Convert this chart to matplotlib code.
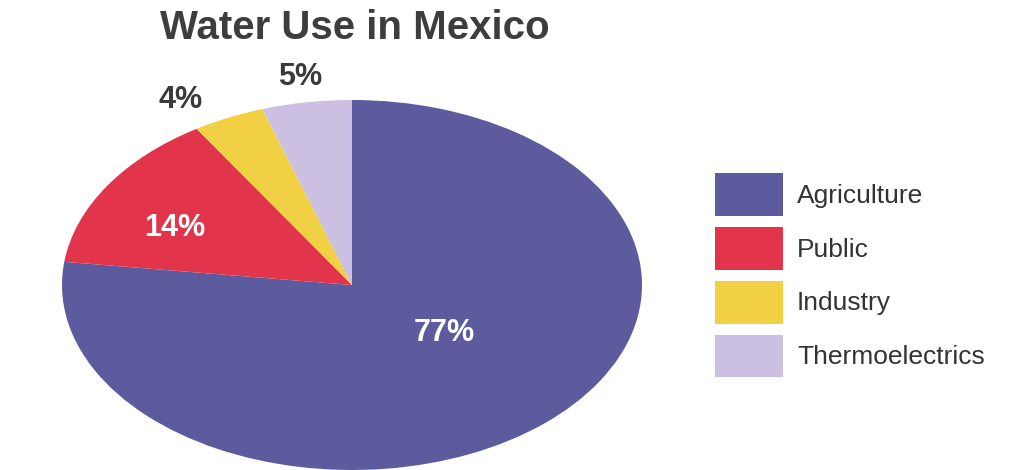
import matplotlib.pyplot as plt

# dados do grafico
categorias = ['Agriculture', 'Public', 'Industry', 'Thermoelectrics']
percentuais = [77, 14, 4, 5]
rotulos = ['77%', '14%', '4%', '5%']
cores = ['#5b5b9d', '#e2344b', '#f1d143', '#cbc0e2']

# posicao dos rotulos (coordenadas do eixo) e cor do texto
pos_rotulos = [(0.32, -0.26), (-0.61, 0.31), (-0.59, 1.00), (-0.18, 1.125)]
cor_rotulos = ['white', 'white', '#3a3a3a', '#3a3a3a']

plt.rcParams['font.family'] = ['Liberation Sans', 'DejaVu Sans']

fig = plt.figure(figsize=(10.11, 4.70), dpi=100)
ax = fig.add_axes([62 / 1011, 0.0, 580 / 1011, 370 / 470])

fatias, _ = ax.pie(percentuais, colors=cores, startangle=90, counterclock=False,
                   wedgeprops={'linewidth': 0})
ax.set_aspect('auto')
ax.set_xlim(-1, 1)
ax.set_ylim(-1, 1)

for (x, y), txt, c in zip(pos_rotulos, rotulos, cor_rotulos):
    ax.text(x, y, txt, ha='center', va='center', fontsize=22, fontweight='bold',
            color=c, clip_on=False)

fig.text(355 / 1011, 1 - 28 / 470, 'Water Use in Mexico', ha='center', va='center',
         fontsize=29, fontweight='bold', color='#3d3d3d')

# legenda
fs = 19
px = fs * 100 / 72
leg = fig.legend(fatias, categorias, loc='upper left',
                 bbox_to_anchor=(715 / 1011, 1 - 173 / 470), frameon=False,
                 fontsize=fs, borderpad=0, borderaxespad=0,
                 handlelength=68 / px, handleheight=56 / px,
                 labelspacing=11 / px, handletextpad=14 / px)
for t in leg.get_texts():
    t.set_color('#333333')

fig.savefig('out.png', dpi=100)
